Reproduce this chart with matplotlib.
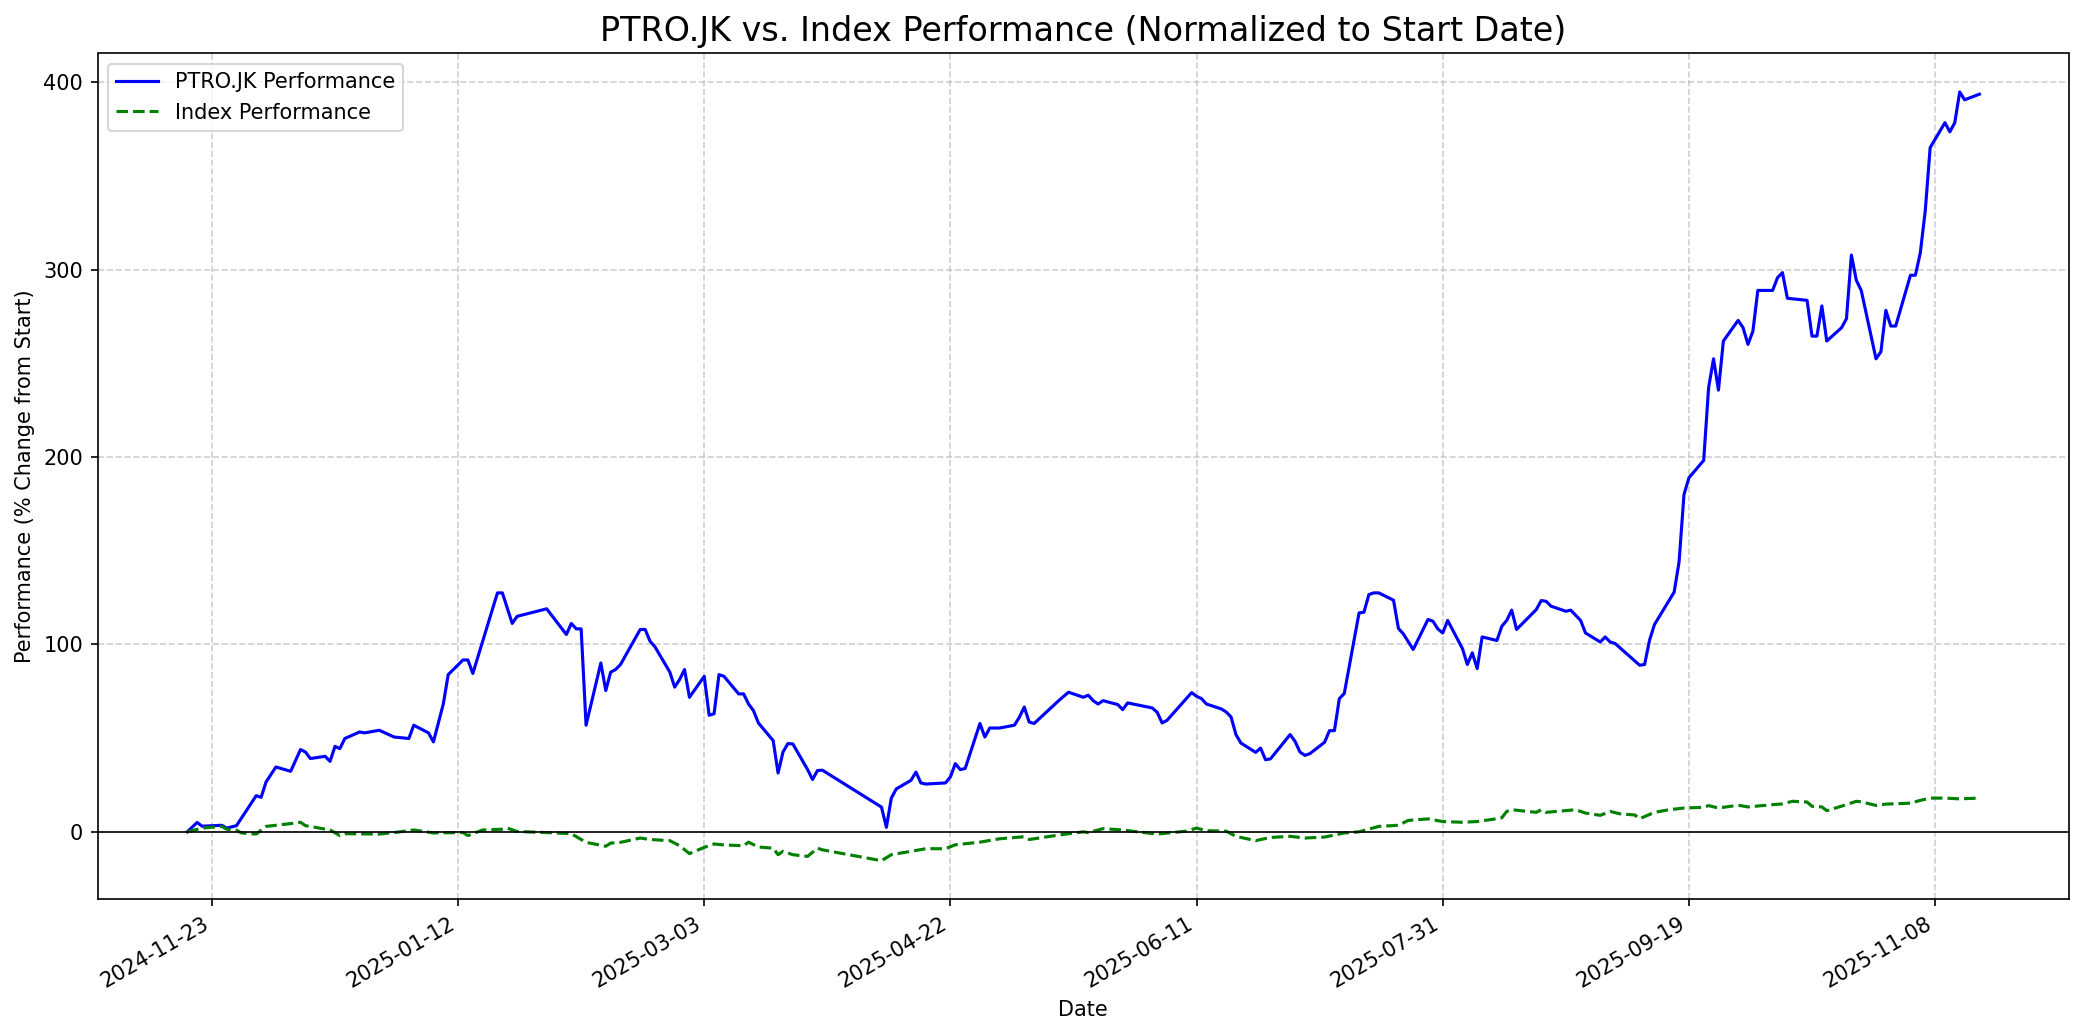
import pandas as pd
import matplotlib
matplotlib.use('Agg')
import matplotlib.pyplot as plt
import matplotlib.dates as mdates
from matplotlib.ticker import MultipleLocator

# PTRO.JK performance, % change from start (turning points)
stock_dates = [
    '2024-11-18', '2024-11-20', '2024-11-21', '2024-11-25', '2024-11-26', '2024-11-28',
    '2024-12-02', '2024-12-03', '2024-12-04', '2024-12-06', '2024-12-09', '2024-12-11',
    '2024-12-12', '2024-12-13', '2024-12-16', '2024-12-17', '2024-12-18', '2024-12-19',
    '2024-12-20', '2024-12-23', '2024-12-24', '2024-12-27', '2024-12-30', '2025-01-02',
    '2025-01-03', '2025-01-06', '2025-01-07', '2025-01-09', '2025-01-10', '2025-01-13',
    '2025-01-14', '2025-01-15', '2025-01-20', '2025-01-21', '2025-01-23', '2025-01-24',
    '2025-01-30', '2025-02-03', '2025-02-04', '2025-02-05', '2025-02-06', '2025-02-07',
    '2025-02-10', '2025-02-11', '2025-02-12', '2025-02-13', '2025-02-14', '2025-02-18',
    '2025-02-19', '2025-02-20', '2025-02-21', '2025-02-24', '2025-02-25', '2025-02-26',
    '2025-02-27', '2025-02-28', '2025-03-03', '2025-03-04', '2025-03-05', '2025-03-06',
    '2025-03-07', '2025-03-10', '2025-03-11', '2025-03-12', '2025-03-13', '2025-03-14',
    '2025-03-17', '2025-03-18', '2025-03-19', '2025-03-20', '2025-03-21', '2025-03-24',
    '2025-03-25', '2025-03-26', '2025-03-27', '2025-04-08', '2025-04-09', '2025-04-10',
    '2025-04-11', '2025-04-14', '2025-04-15', '2025-04-16', '2025-04-17', '2025-04-21',
    '2025-04-22', '2025-04-23', '2025-04-24', '2025-04-25', '2025-04-28', '2025-04-29',
    '2025-04-30', '2025-05-02', '2025-05-05', '2025-05-06', '2025-05-07', '2025-05-08',
    '2025-05-09', '2025-05-14', '2025-05-15', '2025-05-16', '2025-05-19', '2025-05-20',
    '2025-05-21', '2025-05-22', '2025-05-23', '2025-05-26', '2025-05-27', '2025-05-28',
    '2025-06-02', '2025-06-03', '2025-06-04', '2025-06-05', '2025-06-10', '2025-06-11',
    '2025-06-12', '2025-06-13', '2025-06-16', '2025-06-17', '2025-06-18', '2025-06-19',
    '2025-06-20', '2025-06-23', '2025-06-24', '2025-06-25', '2025-06-26', '2025-06-30',
    '2025-07-01', '2025-07-02', '2025-07-03', '2025-07-04', '2025-07-07', '2025-07-08',
    '2025-07-09', '2025-07-10', '2025-07-11', '2025-07-14', '2025-07-15', '2025-07-16',
    '2025-07-17', '2025-07-18', '2025-07-21', '2025-07-22', '2025-07-23', '2025-07-25',
    '2025-07-28', '2025-07-29', '2025-07-30', '2025-07-31', '2025-08-01', '2025-08-04',
    '2025-08-05', '2025-08-06', '2025-08-07', '2025-08-08', '2025-08-11', '2025-08-12',
    '2025-08-13', '2025-08-14', '2025-08-15', '2025-08-19', '2025-08-20', '2025-08-21',
    '2025-08-22', '2025-08-25', '2025-08-26', '2025-08-28', '2025-08-29', '2025-09-01',
    '2025-09-02', '2025-09-03', '2025-09-04', '2025-09-09', '2025-09-10', '2025-09-11',
    '2025-09-12', '2025-09-16', '2025-09-17', '2025-09-18', '2025-09-19', '2025-09-22',
    '2025-09-23', '2025-09-24', '2025-09-25', '2025-09-26', '2025-09-29', '2025-09-30',
    '2025-10-01', '2025-10-02', '2025-10-03', '2025-10-06', '2025-10-07', '2025-10-08',
    '2025-10-09', '2025-10-13', '2025-10-14', '2025-10-15', '2025-10-16', '2025-10-17',
    '2025-10-20', '2025-10-21', '2025-10-22', '2025-10-23', '2025-10-24', '2025-10-27',
    '2025-10-28', '2025-10-29', '2025-10-30', '2025-10-31', '2025-11-03', '2025-11-04',
    '2025-11-05', '2025-11-06', '2025-11-07', '2025-11-10', '2025-11-11', '2025-11-12',
    '2025-11-13', '2025-11-14', '2025-11-17',
]
stock_perf = [
    0.0, 5.0, 3.0, 3.5, 2.0, 3.3,
    19.3, 18.4, 26.6, 34.6, 32.3, 43.9,
    42.6, 39.1, 40.3, 37.6, 45.6, 44.4,
    49.8, 53.3, 52.8, 54.2, 50.6, 49.8,
    56.9, 52.8, 48.0, 68.2, 83.9, 91.7,
    91.7, 84.5, 127.5, 127.5, 111.2, 115.0,
    119.0, 105.3, 111.2, 108.3, 108.3, 56.9,
    90.1, 75.4, 85.2, 86.6, 89.3, 108.0,
    108.0, 101.7, 98.7, 85.3, 77.2, 81.3,
    86.6, 71.8, 83.0, 62.2, 63.0, 83.9,
    83.0, 73.6, 73.6, 68.2, 64.7, 58.1,
    48.7, 31.4, 42.6, 47.1, 46.9, 33.2,
    27.9, 32.7, 32.9, 13.2, 2.4, 18.0,
    22.9, 27.5, 31.9, 26.1, 25.5, 26.1,
    29.3, 36.4, 33.2, 33.8, 57.8, 50.6,
    55.4, 55.4, 56.9, 61.1, 66.6, 58.6,
    57.8, 70.0, 72.3, 74.5, 71.8, 72.9,
    70.0, 68.2, 70.0, 67.9, 65.2, 68.8,
    66.1, 63.8, 58.1, 59.5, 74.3, 72.3,
    71.1, 68.2, 65.6, 64.0, 61.3, 51.9,
    47.4, 42.4, 44.7, 38.5, 38.9, 51.9,
    48.3, 42.6, 40.8, 41.7, 47.8, 54.0,
    54.0, 71.1, 73.8, 116.8, 117.2, 126.6,
    127.5, 127.5, 123.6, 108.5, 105.6, 97.3,
    113.3, 112.4, 108.3, 106.1, 112.8, 97.8,
    89.3, 95.5, 87.1, 104.0, 102.1, 109.7,
    112.8, 118.3, 108.0, 118.6, 123.4, 123.0,
    120.4, 117.7, 118.3, 112.8, 106.1, 101.3,
    104.0, 101.3, 100.5, 88.9, 89.3, 102.2,
    110.6, 127.9, 144.0, 180.0, 188.9, 198.2,
    237.0, 252.4, 235.7, 261.9, 272.9, 269.0,
    260.1, 267.2, 288.9, 288.9, 295.7, 298.4,
    284.7, 283.6, 264.5, 264.5, 280.6, 261.9,
    269.0, 273.8, 307.8, 294.3, 288.9, 252.4,
    256.2, 278.3, 269.9, 269.9, 297.0, 297.0,
    309.0, 331.3, 365.1, 378.4, 373.5, 378.4,
    394.8, 390.6, 393.6,
]

# index performance, % change from start
index_dates = [
    '2024-11-18', '2024-11-21', '2024-11-25', '2024-11-26', '2024-11-28', '2024-11-29',
    '2024-12-02', '2024-12-04', '2024-12-09', '2024-12-11', '2024-12-12', '2024-12-17',
    '2024-12-19', '2024-12-20', '2024-12-27', '2024-12-30', '2025-01-03', '2025-01-07',
    '2025-01-13', '2025-01-14', '2025-01-17', '2025-01-21', '2025-01-22', '2025-01-24',
    '2025-01-30', '2025-02-04', '2025-02-07', '2025-02-11', '2025-02-12', '2025-02-14',
    '2025-02-18', '2025-02-20', '2025-02-24', '2025-02-26', '2025-02-28', '2025-03-03',
    '2025-03-05', '2025-03-07', '2025-03-11', '2025-03-12', '2025-03-14', '2025-03-17',
    '2025-03-18', '2025-03-19', '2025-03-21', '2025-03-24', '2025-03-26', '2025-03-27',
    '2025-04-08', '2025-04-10', '2025-04-14', '2025-04-17', '2025-04-21', '2025-04-23',
    '2025-04-28', '2025-05-02', '2025-05-07', '2025-05-08', '2025-05-14', '2025-05-19',
    '2025-05-20', '2025-05-23', '2025-05-27', '2025-05-30', '2025-06-03', '2025-06-09',
    '2025-06-11', '2025-06-13', '2025-06-17', '2025-06-19', '2025-06-23', '2025-06-26',
    '2025-06-30', '2025-07-03', '2025-07-07', '2025-07-11', '2025-07-14', '2025-07-18',
    '2025-07-22', '2025-07-24', '2025-07-28', '2025-07-31', '2025-08-04', '2025-08-07',
    '2025-08-11', '2025-08-12', '2025-08-13', '2025-08-14', '2025-08-19', '2025-08-20',
    '2025-08-21', '2025-08-27', '2025-08-29', '2025-09-01', '2025-09-03', '2025-09-05',
    '2025-09-08', '2025-09-09', '2025-09-12', '2025-09-15', '2025-09-18', '2025-09-22',
    '2025-09-23', '2025-09-25', '2025-09-29', '2025-10-01', '2025-10-06', '2025-10-08',
    '2025-10-10', '2025-10-13', '2025-10-14', '2025-10-16', '2025-10-17', '2025-10-21',
    '2025-10-23', '2025-10-24', '2025-10-27', '2025-10-29', '2025-11-03', '2025-11-05',
    '2025-11-07', '2025-11-10', '2025-11-13', '2025-11-17',
]
index_perf = [
    0.0, 2.0, 2.9, 1.4, 0.9, -0.6,
    -1.2, 2.9, 4.4, 5.1, 3.3, 1.0,
    -2.0, -1.0, -1.2, -0.4, 1.0, -0.6,
    -0.4, -2.0, 1.0, 1.4, 2.0, 0.2,
    -0.4, -1.0, -5.6, -7.7, -6.0, -5.6,
    -3.3, -4.1, -4.7, -7.4, -11.6, -8.3,
    -6.5, -7.0, -7.4, -5.5, -8.1, -8.7,
    -12.2, -10.4, -12.2, -13.1, -8.7, -9.6,
    -15.4, -12.2, -10.4, -9.0, -9.0, -6.9,
    -5.5, -3.7, -2.6, -4.1, -1.7, 0.0,
    -0.4, 1.7, 1.0, 0.0, -1.2, 0.4,
    2.0, 0.6, 0.4, -2.4, -4.7, -3.0,
    -2.4, -3.3, -2.8, -0.6, 0.0, 2.9,
    3.5, 6.1, 6.9, 5.5, 5.1, 5.5,
    7.0, 7.5, 10.9, 11.8, 10.4, 11.8,
    10.4, 11.8, 10.0, 8.8, 10.9, 9.6,
    9.0, 7.0, 10.4, 11.8, 12.7, 13.1,
    14.0, 12.7, 14.2, 13.3, 14.5, 14.9,
    16.3, 15.9, 13.6, 13.3, 11.3, 14.5,
    16.3, 16.0, 14.1, 14.8, 15.3, 16.8,
    18.0, 18.0, 17.6, 18.0,
]

stock_x = pd.to_datetime(stock_dates)
index_x = pd.to_datetime(index_dates)

fig, ax = plt.subplots(figsize=(2084 / 150, 1035 / 150), dpi=150)

ax.plot(stock_x, stock_perf, color='blue', linewidth=1.5, label='PTRO.JK Performance')
ax.plot(index_x, index_perf, color='green', linestyle='--', linewidth=1.5,
        label='Index Performance')
ax.axhline(0, color='black', linewidth=0.8)

# ticks every 50 days on the date axis
ax.xaxis.set_major_locator(MultipleLocator(50))
ax.xaxis.set_major_formatter(mdates.DateFormatter('%Y-%m-%d'))
fig.autofmt_xdate()

ax.set_title('PTRO.JK vs. Index Performance (Normalized to Start Date)', fontsize=16)
ax.set_xlabel('Date')
ax.set_ylabel('Performance (% Change from Start)')
ax.grid(True, linestyle='--', alpha=0.6)
ax.legend(loc='upper left')

fig.tight_layout(pad=0.72)
fig.savefig('out.png', dpi=150)
